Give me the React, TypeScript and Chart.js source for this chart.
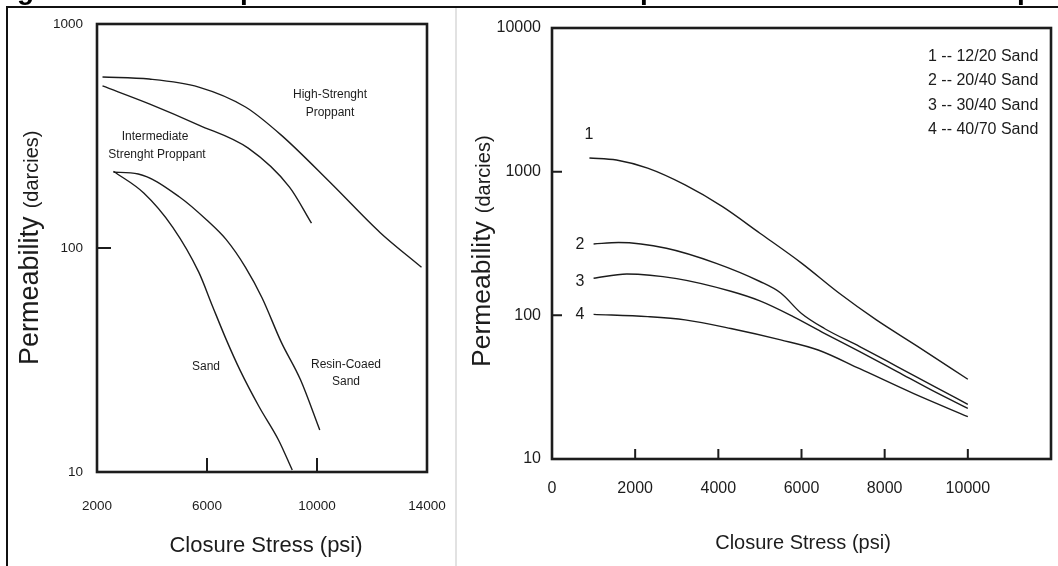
import React, { useEffect, useRef } from "react";
import { Chart, registerables } from "chart.js";

Chart.register(...registerables);

// ---------- Left panel data ----------
const leftXTicks = [2000, 6000, 10000, 14000];
const leftXLabels = ["2000", "6000", "10000", "14000"];
const leftYTicks = [10, 100, 1000];
const leftYLabels = ["10", "100", "1000"];
const leftInnerXTicks = [6000, 10000];
const leftInnerYTicks = [100];

const highStrengthX = [2200, 3900, 5700, 7400, 8700, 10500, 12300, 13800];
const highStrengthY = [580, 568, 523, 426, 319, 195, 117, 82];

const intermediateX = [2200, 3900, 5700, 7500, 9000, 9800];
const intermediateY = [529, 440, 354, 279, 187, 129];

const resinSandX = [2600, 3500, 5000, 6000, 6700, 7400, 8000, 8700, 9400, 10100];
const resinSandY = [218, 214, 169, 133, 109, 82, 60, 38, 25.8, 15.4];

const sandX = [2600, 3700, 4750, 5700, 6200, 6700, 7200, 7900, 8600, 9100];
const sandY = [220, 176, 124, 78, 55, 39, 28.5, 19.5, 13.9, 10.2];

// ---------- Right panel data ----------
const rightXTicks = [0, 2000, 4000, 6000, 8000, 10000];
const rightXLabels = ["0", "2000", "4000", "6000", "8000", "10000"];
const rightYTicks = [10, 100, 1000, 10000];
const rightYLabels = ["10", "100", "1000", "10000"];
const rightInnerXTicks = [2000, 4000, 6000, 8000, 10000];
const rightInnerYTicks = [100, 1000];

const sand1220X = [900, 1550, 2300, 3200, 4100, 5000, 6000, 6900, 7800, 8800, 10000];
const sand1220Y = [1245, 1206, 1057, 808, 571, 373, 231, 143, 93, 60.6, 35.9];

const sand2040X = [1000, 1600, 2750, 3950, 5000, 5500, 6000, 6550, 7400, 8300, 9200, 10000];
const sand2040Y = [314, 321, 293, 230, 172, 143, 103, 81, 60.6, 44, 31.9, 24];

const sand3040X = [1000, 1800, 3000, 4300, 5000, 5800, 6550, 7400, 8300, 9200, 10000];
const sand3040Y = [181, 194, 180, 147, 126, 98, 75, 56, 40.6, 29.4, 22.5];

const sand4070X = [1000, 2300, 3200, 4300, 5500, 6400, 7400, 8700, 10000];
const sand4070Y = [101.6, 98, 93, 81, 67.5, 57.4, 42.5, 28.5, 19.7];

const legendLines = ["1 -- 12/20 Sand", "2 -- 20/40 Sand", "3 -- 30/40 Sand", "4 -- 40/70 Sand"];
const curveNumbers = ["1", "2", "3", "4"];

const leftNotes = ["High-Strenght", "Proppant", "Intermediate", "Strenght Proppant", "Sand", "Resin-Coaed", "Sand"];
const xTitleText = "Closure Stress (psi)";
const yTitleMain = "Permeability";
const yTitleUnit = "(darcies)";

const FONT = "'Liberation Sans', Arial, Helvetica, sans-serif";
const INK = "#1c1c1c";

const pts = (xs: number[], ys: number[]) => xs.map((x, i) => ({ x, y: ys[i] }));

type Note = { text: string; x: number; y: number; size: number; align?: CanvasTextAlign };

type PanelCfg = {
  id: string;
  innerX: number[];
  innerY: number[];
  tickLen: number;
  boxWidth: number;
  xTitleSize: number;
  xTitlePos: [number, number];
  yTitleSize: number;
  yUnitSize: number;
  yTitleBase: [number, number];
  notes: Note[];
};

function decorPlugin(cfg: PanelCfg) {
  return {
    id: cfg.id,
    afterDraw(chart: any) {
      const { ctx, chartArea: a, scales } = chart;
      ctx.save();
      ctx.strokeStyle = INK;
      ctx.lineWidth = cfg.boxWidth;
      ctx.strokeRect(a.left, a.top, a.right - a.left, a.bottom - a.top);
      ctx.lineWidth = 2;
      ctx.beginPath();
      for (const v of cfg.innerX) {
        const px = scales.x.getPixelForValue(v);
        ctx.moveTo(px, a.bottom);
        ctx.lineTo(px, a.bottom - cfg.tickLen);
      }
      for (const v of cfg.innerY) {
        const py = scales.y.getPixelForValue(v);
        ctx.moveTo(a.left, py);
        ctx.lineTo(a.left + cfg.tickLen, py);
      }
      ctx.stroke();

      ctx.fillStyle = INK;
      ctx.textAlign = "center";
      ctx.textBaseline = "middle";
      ctx.font = `${cfg.xTitleSize}px ${FONT}`;
      ctx.fillText(xTitleText, cfg.xTitlePos[0], cfg.xTitlePos[1]);

      ctx.save();
      ctx.translate(cfg.yTitleBase[0], cfg.yTitleBase[1]);
      ctx.rotate(-Math.PI / 2);
      ctx.textAlign = "left";
      ctx.textBaseline = "alphabetic";
      ctx.font = `${cfg.yTitleSize}px ${FONT}`;
      ctx.fillText(yTitleMain, 0, 0);
      const w = ctx.measureText(yTitleMain).width + cfg.yTitleSize * 0.3;
      ctx.font = `${cfg.yUnitSize}px ${FONT}`;
      ctx.fillText(yTitleUnit, w, 0);
      ctx.restore();

      for (const n of cfg.notes) {
        ctx.font = `${n.size}px ${FONT}`;
        ctx.textAlign = n.align || "center";
        ctx.textBaseline = "middle";
        ctx.fillText(n.text, n.x, n.y);
      }
      ctx.restore();
    },
  };
}

function lineSet(xs: number[], ys: number[]) {
  return {
    data: pts(xs, ys),
    borderColor: INK,
    borderWidth: 1.4,
    pointRadius: 0,
    fill: false,
    cubicInterpolationMode: "monotone" as const,
  };
}

function buildOptions(o: {
  xMin: number; xMax: number; yMin: number; yMax: number;
  xTicks: number[]; xLabels: string[]; yTicks: number[]; yLabels: string[];
  yWidth: number; xHeight: number; padTop: number; padRight: number;
  tickSize: number; xPad: number; yPad: number;
}) {
  return {
    responsive: false,
    animation: false as const,
    devicePixelRatio: 1,
    layout: { padding: { left: 0, top: o.padTop, right: o.padRight, bottom: 0 } },
    plugins: { legend: { display: false }, tooltip: { enabled: false } },
    scales: {
      x: {
        type: "linear" as const,
        min: o.xMin,
        max: o.xMax,
        grid: { display: false, drawTicks: false },
        border: { display: false },
        afterBuildTicks: (s: any) => { s.ticks = o.xTicks.map((v) => ({ value: v })); },
        afterFit: (s: any) => { s.height = o.xHeight; s.paddingLeft = 0; s.paddingRight = 0; },
        ticks: {
          autoSkip: false,
          maxRotation: 0,
          padding: o.xPad,
          color: INK,
          font: { family: FONT, size: o.tickSize },
          callback: (v: any) => o.xLabels[o.xTicks.indexOf(Number(v))] ?? "",
        },
      },
      y: {
        type: "logarithmic" as const,
        min: o.yMin,
        max: o.yMax,
        grid: { display: false, drawTicks: false },
        border: { display: false },
        afterBuildTicks: (s: any) => { s.ticks = o.yTicks.map((v) => ({ value: v })); },
        afterFit: (s: any) => { s.width = o.yWidth; s.paddingTop = 0; s.paddingBottom = 0; },
        ticks: {
          autoSkip: false,
          padding: o.yPad,
          color: INK,
          font: { family: FONT, size: o.tickSize },
          callback: (v: any) => o.yLabels[o.yTicks.indexOf(Number(v))] ?? "",
        },
      },
    },
  };
}

function LeftPanel() {
  const ref = useRef<HTMLCanvasElement>(null);
  useEffect(() => {
    const chart = new Chart(ref.current!, {
      type: "line",
      data: {
        datasets: [
          lineSet(highStrengthX, highStrengthY),
          lineSet(intermediateX, intermediateY),
          lineSet(resinSandX, resinSandY),
          lineSet(sandX, sandY),
        ],
      },
      options: buildOptions({
        xMin: 2000, xMax: 14000, yMin: 10, yMax: 1000,
        xTicks: leftXTicks, xLabels: leftXLabels, yTicks: leftYTicks, yLabels: leftYLabels,
        yWidth: 97, xHeight: 94, padTop: 24, padRight: 28,
        tickSize: 13.5, xPad: 26, yPad: 14,
      }) as any,
      plugins: [
        decorPlugin({
          id: "leftDecor",
          innerX: leftInnerXTicks,
          innerY: leftInnerYTicks,
          tickLen: 14,
          boxWidth: 2.6,
          xTitleSize: 22,
          xTitlePos: [266, 546],
          yTitleSize: 27,
          yUnitSize: 20,
          yTitleBase: [38, 365],
          notes: [
            { text: leftNotes[0], x: 330, y: 95, size: 12 },
            { text: leftNotes[1], x: 330, y: 113, size: 12 },
            { text: leftNotes[2], x: 155, y: 137, size: 12 },
            { text: leftNotes[3], x: 157, y: 155, size: 12 },
            { text: leftNotes[4], x: 206, y: 367, size: 12 },
            { text: leftNotes[5], x: 346, y: 365, size: 12 },
            { text: leftNotes[6], x: 346, y: 382, size: 12 },
          ],
        }),
      ],
    });
    return () => chart.destroy();
  }, []);
  return <canvas ref={ref} width={455} height={566} style={{ position: "absolute", left: 0, top: 0, width: 455, height: 566 }} />;
}

function RightPanel() {
  const ref = useRef<HTMLCanvasElement>(null);
  useEffect(() => {
    const chart = new Chart(ref.current!, {
      type: "line",
      data: {
        datasets: [
          lineSet(sand1220X, sand1220Y),
          lineSet(sand2040X, sand2040Y),
          lineSet(sand3040X, sand3040Y),
          lineSet(sand4070X, sand4070Y),
        ],
      },
      options: buildOptions({
        xMin: 0, xMax: 12000, yMin: 10, yMax: 10000,
        xTicks: rightXTicks, xLabels: rightXLabels, yTicks: rightYTicks, yLabels: rightYLabels,
        yWidth: 97, xHeight: 107, padTop: 28, padRight: 7,
        tickSize: 16, xPad: 20, yPad: 11,
      }) as any,
      plugins: [
        decorPlugin({
          id: "rightDecor",
          innerX: rightInnerXTicks,
          innerY: rightInnerYTicks,
          tickLen: 10,
          boxWidth: 2.6,
          xTitleSize: 20,
          xTitlePos: [348, 543],
          yTitleSize: 26.5,
          yUnitSize: 20,
          yTitleBase: [35, 367],
          notes: [
            { text: legendLines[0], x: 473, y: 57, size: 16, align: "left" },
            { text: legendLines[1], x: 473, y: 81, size: 16, align: "left" },
            { text: legendLines[2], x: 473, y: 106, size: 16, align: "left" },
            { text: legendLines[3], x: 473, y: 130, size: 16, align: "left" },
            { text: curveNumbers[0], x: 134, y: 135, size: 16 },
            { text: curveNumbers[1], x: 125, y: 245, size: 16 },
            { text: curveNumbers[2], x: 125, y: 282, size: 16 },
            { text: curveNumbers[3], x: 125, y: 315, size: 16 },
          ],
        }),
      ],
    });
    return () => chart.destroy();
  }, []);
  return <canvas ref={ref} width={603} height={566} style={{ position: "absolute", left: 455, top: 0, width: 603, height: 566 }} />;
}

const titleGlyphs = [
  { t: "g", x: 17 },
  { t: "p", x: 240 },
  { t: "p", x: 640 },
  { t: "p", x: 1017 },
];

export default function App() {
  return (
    <div style={{ position: "fixed", left: 0, top: 0, width: 1058, height: 566, overflow: "hidden", background: "#fff" }}>
      <LeftPanel />
      <RightPanel />
      {titleGlyphs.map((g, i) => (
        <span key={i} style={{ position: "absolute", left: g.x, top: -24, font: `bold 28px ${FONT}`, lineHeight: "28px", color: "#000" }}>{g.t}</span>
      ))}
      <div style={{ position: "absolute", left: 6, top: 6, width: 1052, height: 2, background: "#111" }} />
      <div style={{ position: "absolute", left: 6, top: 6, width: 2, height: 560, background: "#111" }} />
      <div style={{ position: "absolute", left: 455, top: 8, width: 2, height: 558, background: "#e2e2e2" }} />
    </div>
  );
}
